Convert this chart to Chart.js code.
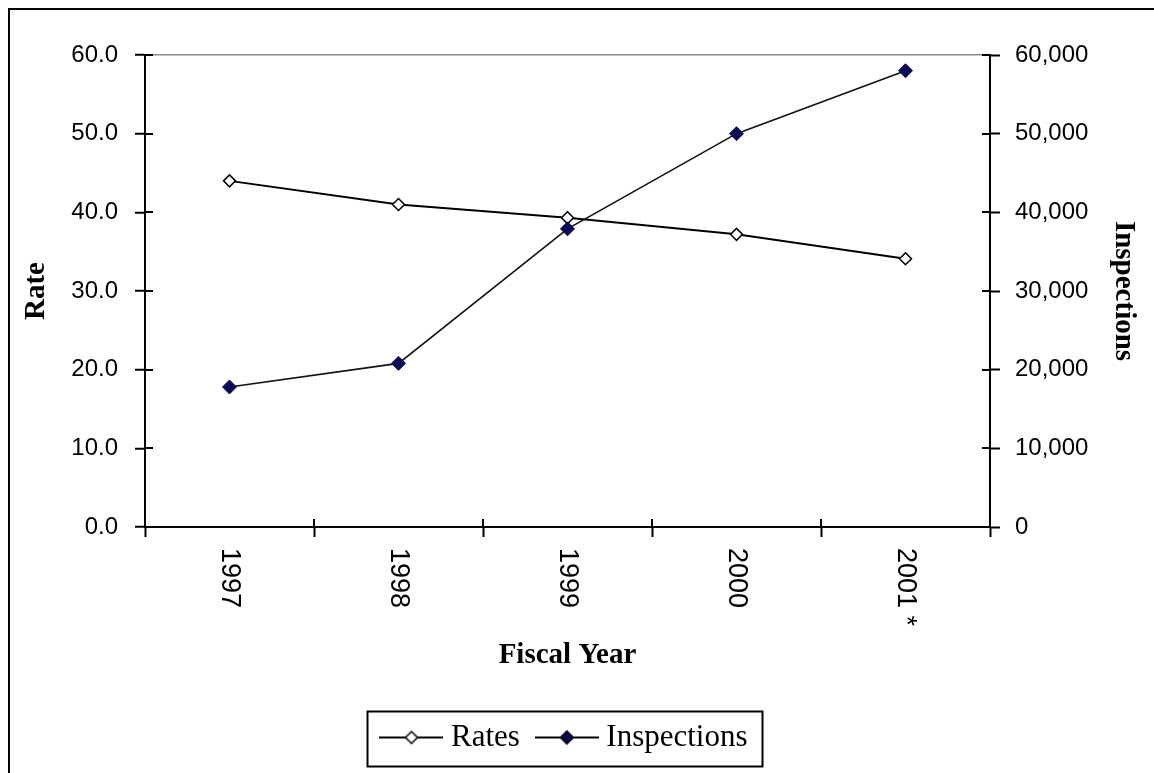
<!DOCTYPE html>
<html>
<head>
<meta charset="utf-8">
<script src="https://cdn.jsdelivr.net/npm/chart.js@4.4.1/dist/chart.umd.min.js"></script>
<style>
  html, body { margin: 0; padding: 0; background: #fff; }
  #wrap { position: relative; width: 1154px; height: 773px; }
  canvas { display: block; }
</style>
</head>
<body>
<div id="wrap"><canvas id="c" width="1154" height="773"></canvas></div>
<script>
// ---- data ----
const categories = ['1997', '1998', '1999', '2000', '2001 *'];
const rates = [44.0, 41.0, 39.3, 37.2, 34.1];
const inspections = [17800, 20800, 37900, 50000, 58000];
const rateTicks = [0, 10, 20, 30, 40, 50, 60];
const inspectionTicks = [0, 10000, 20000, 30000, 40000, 50000, 60000];
const seriesNames = ['Rates', 'Inspections'];
const xTitle = 'Fiscal Year';
const yTitle = 'Rate';
const y2Title = 'Inspections';

// ---- styling helpers ----
const NAVY = '#0b0b55';
const SANS = '"Liberation Sans", Arial, sans-serif';
const SERIF = '"Liberation Serif", "Times New Roman", serif';

function legendSymbol(fill, r) {
  const c = document.createElement('canvas');
  c.width = 64; c.height = 22;
  const g = c.getContext('2d');
  g.strokeStyle = '#000';
  g.lineWidth = 2;
  g.beginPath(); g.moveTo(0, 11); g.lineTo(64, 11); g.stroke();
  g.beginPath();
  g.moveTo(32 - r, 11); g.lineTo(32, 11 - r); g.lineTo(32 + r, 11); g.lineTo(32, 11 + r);
  g.closePath();
  g.fillStyle = fill; g.fill();
  g.lineWidth = 1.5; g.stroke();
  return c;
}
const symbols = [legendSymbol('#fff', 6), legendSymbol(NAVY, 6.5)];

const decor = {
  id: 'decor',
  beforeDraw(chart) {
    const ctx = chart.ctx;
    ctx.save();
    ctx.fillStyle = '#fff';
    ctx.fillRect(0, 0, chart.width, chart.height);
    ctx.strokeStyle = '#000';
    ctx.lineWidth = 2;
    ctx.strokeRect(9, 9, chart.width + 40, chart.height + 40);
    ctx.restore();
  },
  afterDraw(chart) {
    const ctx = chart.ctx;
    const xs = chart.scales.x, ys = chart.scales.y, ys2 = chart.scales.y2;
    const area = chart.chartArea;
    ctx.save();
    // inner halves of the crossing tick marks
    ctx.strokeStyle = '#000';
    ctx.lineWidth = 2;
    ctx.beginPath();
    rateTicks.forEach(v => {
      const py = Math.round(ys.getPixelForValue(v));
      ctx.moveTo(area.left, py); ctx.lineTo(area.left + 8, py);
    });
    inspectionTicks.forEach(v => {
      const py = Math.round(ys2.getPixelForValue(v));
      ctx.moveTo(area.right - 8, py); ctx.lineTo(area.right, py);
    });
    for (let i = 0; i <= categories.length; i++) {
      const px = Math.round(xs.getPixelForValue(i - 0.5));
      ctx.moveTo(px, area.bottom - 8); ctx.lineTo(px, area.bottom);
    }
    ctx.stroke();
    // rotated category labels (reading top to bottom)
    ctx.fillStyle = '#000';
    ctx.font = '27px ' + SANS;
    ctx.textAlign = 'left';
    ctx.textBaseline = 'middle';
    categories.forEach((c, i) => {
      const px = xs.getPixelForValue(i);
      ctx.save();
      ctx.translate(px, xs.top + 21);
      ctx.rotate(Math.PI / 2);
      ctx.fillText(c, 0, 0);
      ctx.restore();
    });
    // legend frame
    const lg = chart.legend;
    if (lg && lg.legendHitBoxes && lg.legendHitBoxes.length) {
      const hb = lg.legendHitBoxes;
      const first = hb[0], last = hb[hb.length - 1];
      const cy = first.top + first.height / 2;
      const l = first.left - 20, r = last.left + last.width + 15;
      ctx.lineWidth = 2;
      ctx.strokeStyle = '#000';
      ctx.strokeRect(Math.round(l) + 0.5, Math.round(cy - 27) + 0.5, Math.round(r - l), 55);
    }
    ctx.restore();
  }
};

new Chart(document.getElementById('c'), {
  type: 'line',
  data: {
    labels: categories,
    datasets: [
      {
        label: seriesNames[0],
        data: rates,
        yAxisID: 'y',
        borderColor: '#000',
        borderWidth: 2,
        pointStyle: 'rectRot',
        pointRadius: 6,
        pointBackgroundColor: '#fff',
        pointBorderColor: '#000',
        pointBorderWidth: 1.5,
        tension: 0,
        fill: false,
        order: 1
      },
      {
        label: seriesNames[1],
        data: inspections,
        yAxisID: 'y2',
        borderColor: '#111',
        borderWidth: 1.6,
        pointStyle: 'rectRot',
        pointRadius: 7,
        pointBackgroundColor: NAVY,
        pointBorderColor: NAVY,
        pointBorderWidth: 1,
        tension: 0,
        fill: false,
        order: 0
      }
    ]
  },
  options: {
    responsive: false,
    animation: false,
    devicePixelRatio: 1,
    layout: { padding: { left: 0, right: 0, top: 55, bottom: 10 } },
    plugins: {
      tooltip: { enabled: false },
      legend: {
        display: true,
        position: 'bottom',
        fullSize: false,
        labels: {
          usePointStyle: true,
          pointStyleWidth: 48,
          padding: 23,
          color: '#000',
          font: { family: SERIF, size: 31 },
          generateLabels: (chart) => seriesNames.map((n, i) => ({
            text: n,
            pointStyle: symbols[i],
            fillStyle: '#000',
            strokeStyle: '#000',
            lineWidth: 0,
            hidden: false,
            datasetIndex: i,
            fontColor: '#000'
          }))
        }
      }
    },
    scales: {
      x: {
        type: 'category',
        offset: true,
        grid: {
          offset: true,
          drawOnChartArea: false,
          drawTicks: true,
          tickLength: 10,
          color: '#000',
          tickColor: '#000',
          tickWidth: 2
        },
        border: { color: '#000', width: 2 },
        ticks: { color: 'rgba(0,0,0,0)', autoSkip: false, maxRotation: 0, minRotation: 0, font: { size: 10 } },
        title: {
          display: true,
          text: xTitle,
          color: '#000',
          font: { family: SERIF, size: 29, weight: 'bold' },
          padding: { top: 0, bottom: 26 }
        },
        afterFit(s) { s.height = 172; }
      },
      y: {
        position: 'left',
        min: 0,
        max: 60,
        afterBuildTicks(s) { s.ticks = rateTicks.map(v => ({ value: v })); },
        ticks: {
          callback: (v) => Number(v).toFixed(1),
          color: '#000',
          font: { family: SANS, size: 24 },
          padding: 17
        },
        grid: {
          color: (c) => (c.tick && c.tick.value === 60) ? '#8c8c8c' : 'rgba(0,0,0,0)',
          lineWidth: 1.5,
          tickColor: '#000',
          tickWidth: 2,
          tickLength: 10
        },
        border: { color: '#000', width: 2 },
        title: {
          display: true,
          text: yTitle,
          color: '#000',
          font: { family: SERIF, size: 29, weight: 'bold' },
          padding: { top: 19, bottom: 0 }
        },
        afterFit(s) { s.width = 145; }
      },
      y2: {
        position: 'right',
        min: 0,
        max: 60000,
        afterBuildTicks(s) { s.ticks = inspectionTicks.map(v => ({ value: v })); },
        ticks: {
          callback: (v) => Number(v).toLocaleString('en-US'),
          color: '#000',
          font: { family: SANS, size: 24 },
          padding: 15
        },
        grid: {
          drawOnChartArea: false,
          color: '#000',
          tickColor: '#000',
          tickWidth: 2,
          tickLength: 10
        },
        border: { color: '#000', width: 2 },
        title: {
          display: true,
          text: y2Title,
          color: '#000',
          font: { family: SERIF, size: 29, weight: 'bold' },
          padding: { top: 13, bottom: 0 }
        },
        afterFit(s) { s.width = 164; }
      }
    }
  },
  plugins: [decor]
});
</script>
</body>
</html>
